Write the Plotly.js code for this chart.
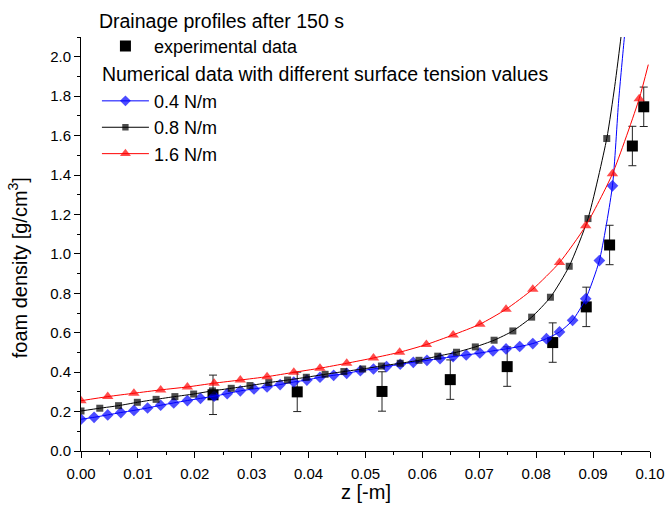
<!DOCTYPE html>
<html><head><meta charset="utf-8">
<script src="https://cdn.plot.ly/plotly-3.0.1.min.js"></script>
<style>html,body{margin:0;padding:0;background:#fff}#chart{width:665px;height:510px}</style>
</head><body><div id="chart"></div>
<script>
// Experimental data
const expZ = [0.0232, 0.0380, 0.0529, 0.0649, 0.0749, 0.0829, 0.0888, 0.0929, 0.0969, 0.0989];
const expRho = [0.285, 0.300, 0.302, 0.362, 0.428, 0.550, 0.731, 1.045, 1.547, 1.746];
const expErr = [0.1, 0.1, 0.1, 0.1, 0.1, 0.1, 0.1, 0.1, 0.1, 0.1];

// 0.4 N/m (blue) - last points are curve continuation without markers
const z04 = [0, 0.0023, 0.0047, 0.0070, 0.0093, 0.0117, 0.0140, 0.0163, 0.0187, 0.0210,
  0.0234, 0.0257, 0.0280, 0.0304, 0.0327, 0.0350, 0.0374, 0.0397, 0.0420, 0.0444,
  0.0467, 0.0491, 0.0514, 0.0537, 0.0561, 0.0584, 0.0608, 0.0631, 0.0654, 0.0677,
  0.0701, 0.0724, 0.0747, 0.0771, 0.0794, 0.0818, 0.0841, 0.0864, 0.0887, 0.0911,
  0.0934, 0.0945, 0.0955, 0.0962];
const rho04 = [0.161, 0.171, 0.183, 0.195, 0.206, 0.218, 0.232, 0.244, 0.256, 0.267,
  0.278, 0.291, 0.305, 0.315, 0.325, 0.337, 0.350, 0.360, 0.374, 0.384,
  0.394, 0.407, 0.416, 0.428, 0.440, 0.450, 0.460, 0.469, 0.479, 0.487,
  0.497, 0.508, 0.518, 0.530, 0.545, 0.570, 0.604, 0.663, 0.772, 0.966,
  1.345, 1.780, 2.100, 2.300];
const mark04 = 41;

// 0.8 N/m (black)
const z08 = [0, 0.0033, 0.0066, 0.0099, 0.0132, 0.0165, 0.0198, 0.0231, 0.0264, 0.0297,
  0.0330, 0.0363, 0.0396, 0.0429, 0.0462, 0.0495, 0.0528, 0.0561, 0.0594, 0.0627,
  0.0660, 0.0693, 0.0726, 0.0759, 0.0792, 0.0825, 0.0858, 0.0891, 0.0924,
  0.0938, 0.0949, 0.0955];
const rho08 = [0.203, 0.217, 0.230, 0.247, 0.262, 0.276, 0.289, 0.305, 0.318, 0.332,
  0.347, 0.360, 0.374, 0.389, 0.403, 0.416, 0.431, 0.445, 0.460, 0.481,
  0.501, 0.528, 0.562, 0.609, 0.679, 0.780, 0.937, 1.179, 1.585,
  1.850, 2.100, 2.250];
const mark08 = 29;

// 1.6 N/m (red)
const z16 = [0, 0.0047, 0.0093, 0.0140, 0.0187, 0.0234, 0.0280, 0.0327, 0.0374, 0.0420,
  0.0467, 0.0514, 0.0560, 0.0607, 0.0654, 0.0701, 0.0747, 0.0794, 0.0841, 0.0887,
  0.0934, 0.0981, 0.0997];
const rho16 = [0.255, 0.276, 0.293, 0.310, 0.325, 0.344, 0.360, 0.377, 0.399, 0.420,
  0.445, 0.472, 0.501, 0.540, 0.589, 0.643, 0.719, 0.821, 0.956, 1.142,
  1.406, 1.787, 1.960];
const mark16 = 22;

function sizes(n, count, s) { return Array.from({length: n}, (_, i) => i < count ? s : 0); }

const FONT = 'Liberation Sans, Arial, sans-serif';
const LF = 18;   // legend entry font
const TF = 19.5; // legend titles
const AF = 20;   // axis titles

const traces = [
  {x: expZ, y: expRho, type: 'scatter', mode: 'markers', name: 'experimental data',
   legendgroup: 'exp',
   marker: {symbol: 'square', size: 11, color: '#000', line: {width: 0}},
   error_y: {type: 'data', array: expErr, visible: true, color: '#222', thickness: 1, width: 4}},
  {x: z04, y: rho04, type: 'scatter', mode: 'lines+markers', name: '0.4 N/m',
   legendgroup: 'num', legendgrouptitle: {text: 'Numerical data with different surface tension values', font: {size: TF, family: FONT, color: '#000'}},
   line: {color: '#0000ff', width: 1, shape: 'spline', smoothing: 0.6},
   marker: {symbol: 'diamond', size: sizes(z04.length, mark04, 9), color: '#0000ff', line: {width: 0}}},
  {x: z08, y: rho08, type: 'scatter', mode: 'lines+markers', name: '0.8 N/m',
   legendgroup: 'num',
   line: {color: '#000000', width: 1, shape: 'spline', smoothing: 0.6},
   marker: {symbol: 'square', size: sizes(z08.length, mark08, 7), color: '#000', line: {width: 0}}},
  {x: z16, y: rho16, type: 'scatter', mode: 'lines+markers', name: '1.6 N/m',
   legendgroup: 'num',
   line: {color: '#ff0000', width: 1, shape: 'spline', smoothing: 0.6},
   marker: {symbol: 'triangle-up', size: sizes(z16.length, mark16, 10), color: '#ff0000', line: {width: 0}}}
];

const layout = {
  width: 665, height: 510,
  margin: {l: 81, r: 15, t: 37, b: 59, autoexpand: false},
  paper_bgcolor: '#fff', plot_bgcolor: '#fff',
  font: {family: FONT, size: 15, color: '#000'},
  showlegend: true,
  legend: {
    x: 0.028, y: 0.995, xanchor: 'left', yanchor: 'top', yref: 'container',
    bgcolor: 'rgba(0,0,0,0)', borderwidth: 0,
    font: {size: LF, family: FONT, color: '#000'},
    title: {text: 'Drainage profiles after 150 s', font: {size: TF, family: FONT, color: '#000'}},
    tracegroupgap: 0, traceorder: 'grouped', itemwidth: 47
  },
  xaxis: {
    range: [0, 0.1], dtick: 0.01, tick0: 0, tickformat: '.2f',
    showgrid: false, zeroline: false, showline: true, linecolor: '#000', linewidth: 1,
    ticks: 'outside', ticklen: 6, tickcolor: '#000', tickwidth: 1, ticklabelstandoff: 3,
    minor: {dtick: 0.005, ticks: 'outside', ticklen: 3, tickcolor: '#000', showgrid: false},
    tickfont: {size: 15, family: FONT}
  },
  yaxis: {
    range: [0, 2.1], dtick: 0.2, tick0: 0, tickformat: '.1f',
    showgrid: false, zeroline: false, showline: true, linecolor: '#000', linewidth: 1,
    ticks: 'outside', ticklen: 6, tickcolor: '#000', tickwidth: 1,
    minor: {dtick: 0.1, ticks: 'outside', ticklen: 3, tickcolor: '#000', showgrid: false},
    tickfont: {size: 15, family: FONT}
  },
  annotations: [
    {text: 'z [-m]', xref: 'paper', yref: 'paper', x: 0.5, y: -0.099,
     xanchor: 'center', yanchor: 'middle', showarrow: false, font: {size: AF, family: FONT}},
    {text: 'foam density [g/cm<sup>3</sup>]', xref: 'paper', yref: 'paper', x: -0.112, y: 0.442,
     xanchor: 'center', yanchor: 'middle', textangle: -90, showarrow: false, font: {size: AF, family: FONT}}
  ]
};

Plotly.newPlot('chart', traces, layout, {displayModeBar: false, staticPlot: true});
</script>
</body></html>
